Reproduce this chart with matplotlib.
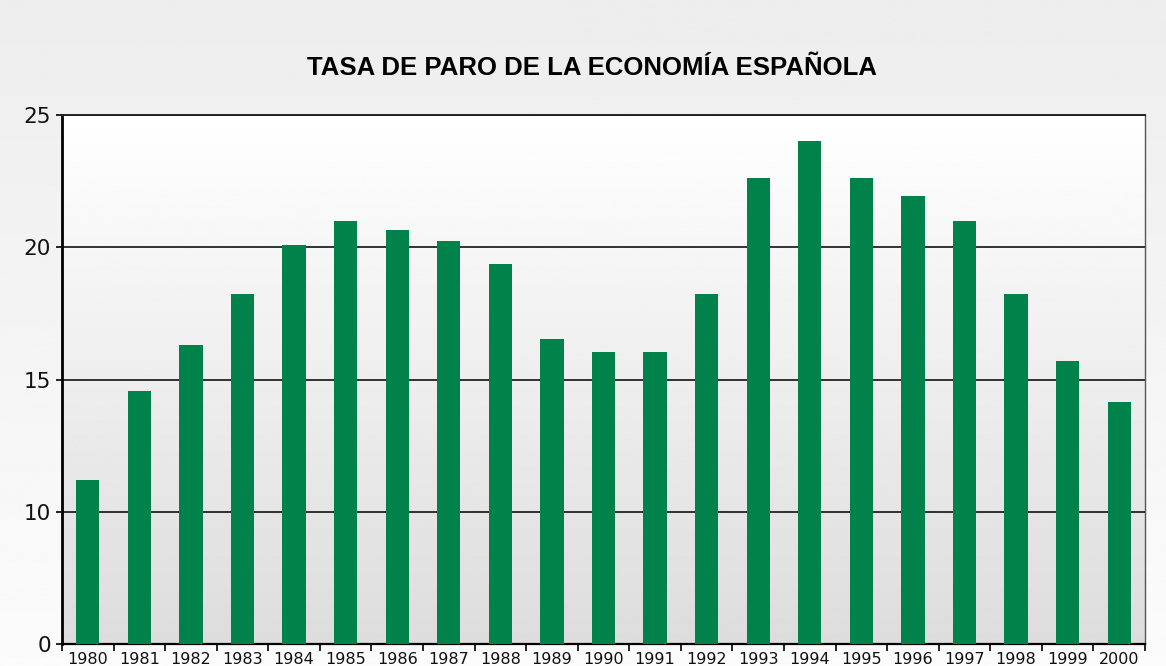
import numpy as np
import matplotlib
matplotlib.use("Agg")
import matplotlib.pyplot as plt
from matplotlib import font_manager

# data (axis starts at 5, labelled "0")
years = [str(y) for y in range(1980, 2001)]
paro = [11.2, 14.55, 16.3, 18.25, 20.1, 21.0, 20.65, 20.25, 19.35, 16.55,
        16.05, 16.05, 18.25, 22.6, 24.0, 22.6, 21.95, 21.0, 18.25, 15.7, 14.15]
yticks = [5, 10, 15, 20, 25]
ytick_labels = ["0", "10", "15", "20", "25"]

installed = {f.name for f in font_manager.fontManager.ttflist}
title_font = "Liberation Sans"
for cand in ["Liberation Sans Narrow", "DejaVu Sans Condensed"]:
    if cand in installed:
        title_font = cand
        break

fig = plt.figure(figsize=(11.66, 6.66), dpi=100)

# figure background gradient
bg = fig.add_axes([0, 0, 1, 1], zorder=-10)
grad = np.linspace(0.93, 0.985, 256).reshape(-1, 1)
bg.imshow(grad, cmap="gray", vmin=0, vmax=1, aspect="auto", extent=[0, 1, 0, 1], origin="upper")
bg.axis("off")

ax = fig.add_axes([0.0532, 0.033, 0.9288, 0.7943])
ax.set_facecolor("none")

# plot area gradient, white on top to light grey at bottom
pg = np.linspace(1.0, 0.865, 256).reshape(-1, 1)
ax.imshow(pg, cmap="gray", vmin=0, vmax=1, aspect="auto",
          extent=[-0.5, len(years) - 0.5, 5, 25], origin="upper", zorder=0)

x = np.arange(len(years))
ax.bar(x, np.array(paro) - 5, bottom=5, width=0.45, color="#00824a", zorder=3)

ax.set_xlim(-0.5, len(years) - 0.5)
ax.set_ylim(5, 25)
ax.set_yticks(yticks)
ax.set_yticklabels(ytick_labels, fontsize=15.5, color="#111111")
ax.set_xticks(x)
ax.set_xticklabels(years, fontsize=11.5, color="#111111")
ax.set_xticks(np.arange(len(years) + 1) - 0.5, minor=True)
ax.tick_params(axis="x", which="major", length=0, pad=6)
ax.tick_params(axis="x", which="minor", length=5, width=1.2, direction="out", color="black")
ax.tick_params(axis="y", length=4, width=1.2, pad=4)

for yv in yticks[1:]:
    ax.axhline(yv, color="#111111", lw=1.2, zorder=2)

ax.spines["left"].set_linewidth(2)
ax.spines["left"].set_color("black")
ax.spines["bottom"].set_linewidth(1.6)
ax.spines["bottom"].set_color("black")
ax.spines["right"].set_linewidth(1.0)
ax.spines["right"].set_color("#555555")
ax.spines["top"].set_linewidth(1.4)
ax.spines["top"].set_color("#222222")

fig.text(0.508, 0.898, "TASA DE PARO DE LA ECONOMÍA ESPAÑOLA", ha="center", va="center",
         fontsize=19 if title_font != "Liberation Sans" else 18.5, fontweight="bold",
         family=title_font)

fig.savefig("out.png", dpi=100)
